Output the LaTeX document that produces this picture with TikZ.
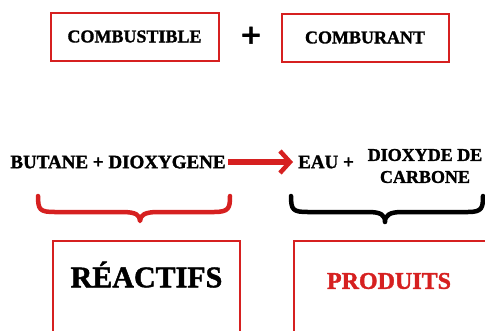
\documentclass[tikz,border=0pt]{standalone}
\usepackage{fontspec}
\setmainfont[BoldFeatures={FakeBold=1.5}]{Liberation Serif}
\usetikzlibrary{positioning}
\usetikzlibrary{arrows.meta}
\definecolor{rouge}{RGB}{214,32,32}
\tikzset{x=1pt, y=-1pt,
every node/.style={ % bold capitals everywhere
font=\bfseries},
cadre/.style={ % red framed boxes
draw=rouge,
line width=2pt,
inner sep=0pt},
chimie/.style={ % words of the reaction
font=\bfseries\fontsize{19}{19}\selectfont,
inner sep=2pt},
accolade/.style={ % hand drawn braces
line width=4.5pt,
line cap=round,
line join=round}}

\begin{document}
\begin{tikzpicture}
	\useasboundingbox (0,0) rectangle (485,330);
	\node[cadre, minimum width=168pt, minimum height=48pt, font=\bfseries\fontsize{18}{18}\selectfont] (comb) at (134.5,36.5) {COMBUSTIBLE};
	\node[font=\bfseries\fontsize{36}{36}\selectfont\addfontfeature{FakeBold=4}] (plus) at (251,37) {+};
	\node[cadre, minimum width=167pt, minimum height=48pt, font=\bfseries\fontsize{18}{18}\selectfont] (comburant) at (365,37.5) {COMBURANT};
	\node[chimie] (reac) at (118,162) {BUTANE + DIOXYGENE};
	\node[chimie, anchor=west] (eau) at (296,162) {EAU +};
	\node[chimie, align=center, font=\bfseries\fontsize{18}{22}\selectfont] (co2) at (425,166) {DIOXYDE DE\\CARBONE};
	\draw[rouge, line width=5.5pt, -{Straight Barb[length=10pt, width=22pt, line width=4.5pt]}, shorten >=3pt] (reac.east) -- (eau.west);
	% braces under the two sides
	\draw[accolade, rouge] (38,196) .. controls (38,210) and (40,212) .. (55,212) -- (122,212) .. controls (136,212) and (140,215) .. (140,221) .. controls (140,215) and (145,212) .. (158,212) -- (214,212) .. controls (229,212) and (230,208) .. (230,196);
	\draw[accolade, black] (291,196) .. controls (291,210) and (293,212) .. (308,212) -- (368,212) .. controls (381,212) and (385,215) .. (385,222) .. controls (385,215) and (390,212) .. (402,212) -- (468,212) .. controls (482,212) and (483,208) .. (483,196);
	% lower boxes, cut by the edge of the picture
	\node[cadre, minimum width=187pt, minimum height=130pt, anchor=north west] (reactifs) at (52,240) {};
	\node[font=\bfseries\fontsize{30}{30}\selectfont, below=18pt of reactifs.north] (treac) {RÉACTIFS};
	\node[cadre, minimum width=210pt, minimum height=130pt, anchor=north west] (produits) at (293,240) {};
	\node[rouge, font=\bfseries\fontsize{24}{24}\selectfont, anchor=center] (tprod) at (389,281) {PRODUITS};
\end{tikzpicture}
\end{document}
